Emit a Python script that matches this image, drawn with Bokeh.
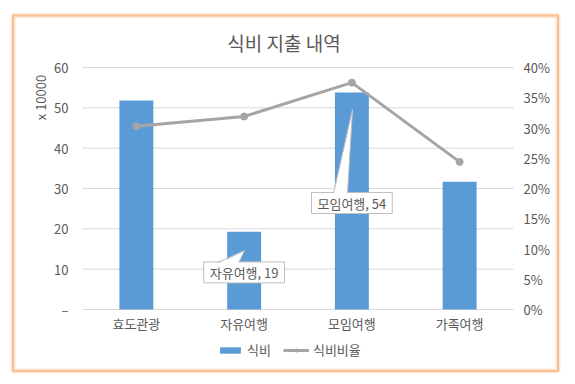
import math
from bokeh.plotting import figure
from bokeh.models import (Range1d, LinearAxis, NumeralTickFormatter, FixedTicker, Label,
                          Legend, LegendItem, ColumnDataSource, CustomJSTickFormatter)
from bokeh.embed import file_html
from bokeh.resources import INLINE

# ---------------- data ----------------
title_text = "식비 지출 내역"
categories = ["효도관광", "자유여행", "모임여행", "가족여행"]
expense = [51.8, 19.3, 53.8, 31.7]          # 식비 (x 10000)
ratio = [0.303, 0.319, 0.375, 0.244]        # 식비비율
left_ticks = [0, 10, 20, 30, 40, 50, 60]
right_ticks = [0.0, 0.05, 0.10, 0.15, 0.20, 0.25, 0.30, 0.35, 0.40]
series_names = ["식비", "식비비율"]
unit_text = "x 10000"
callout_categories = ["자유여행", "모임여행"]

# ---------------- style / layout ----------------
KFONT = "Noto Sans CJK KR"
TXT = "#595959"
GRID = "#d9d9d9"
BAR = "#5b9bd5"
LINE = "#a5a5a5"
BOXLINE = "#bfbfbf"
W, H = 567, 376
PL, PR, PT, PB = 82, 513, 67, 309          # plot area in canvas pixels
Y_MAX = left_ticks[-1]
PCT_MAX = right_ticks[-1]
NCAT = len(categories)
xpp = NCAT / (PR - PL)
ypp = Y_MAX / (PB - PT)


def cx(px):
    return (px - PL) * xpp


def cy(py):
    return (PB - py) * ypp


# callout layout (box centre y, wedge base/tip offsets in category units / data units)
callout_box_y = [9.2, 26.4]
callout_base_top = [11.65, 28.8]
callout_tip = [(0.003, 14.6), (0.006, 49.6)]
callout_base_x = [(-0.247, -0.052), (-0.171, -0.041)]

p = figure(x_range=Range1d(cx(0), cx(W)), y_range=Range1d(cy(H), cy(0)),
           width=W, height=H, output_backend="svg", toolbar_location=None,
           x_axis_location=None, y_axis_location=None,
           min_border=0, min_border_left=0, min_border_right=0, min_border_top=0,
           min_border_bottom=0)
p.outline_line_color = None
p.background_fill_color = "white"
p.border_fill_color = "white"
p.xgrid.visible = False
p.ygrid.visible = False
p.extra_y_ranges = {"pct": Range1d(cy(H) * PCT_MAX / Y_MAX, cy(0) * PCT_MAX / Y_MAX)}

# chart border (soft orange frame)
p.quad(left=cx(12.5), right=cx(557.5), top=cy(15), bottom=cy(370.5), fill_color=None,
       line_color="#fde6d4", line_width=5)
p.quad(left=cx(12.5), right=cx(557.5), top=cy(15), bottom=cy(370.5), fill_color=None,
       line_color="#f6bf94", line_width=2)

# gridlines
p.segment(x0=[0] * len(left_ticks), x1=[NCAT] * len(left_ticks), y0=left_ticks,
          y1=left_ticks, line_color=GRID, line_width=1, level="underlay")


def style_axis(ax, standoff):
    ax.axis_line_color = None
    ax.major_tick_line_color = None
    ax.minor_tick_line_color = None
    ax.major_tick_out = 0
    ax.major_tick_in = 0
    ax.minor_tick_out = 0
    ax.minor_tick_in = 0
    ax.major_label_standoff = standoff
    ax.major_label_text_font = KFONT
    ax.major_label_text_font_size = "13px"
    ax.major_label_text_color = TXT


ya = LinearAxis(fixed_location=0, ticker=FixedTicker(ticks=left_ticks))
ya.major_label_overrides = {0: "–"}
style_axis(ya, 14)
p.add_layout(ya, "left")

ra = LinearAxis(fixed_location=NCAT, y_range_name="pct",
                ticker=FixedTicker(ticks=right_ticks),
                formatter=NumeralTickFormatter(format="0%"))
style_axis(ra, 10)
p.add_layout(ra, "right")

xa = LinearAxis(fixed_location=0, ticker=FixedTicker(ticks=[i + 0.5 for i in range(NCAT)]),
                formatter=CustomJSTickFormatter(args=dict(labels=categories),
                                                code="return labels[Math.floor(tick)]"))
style_axis(xa, 4)
p.add_layout(xa, "below")

src = ColumnDataSource(dict(x=[i + 0.5 for i in range(NCAT)], cat=categories,
                            val=expense, pct=ratio))
bars = p.vbar(x="x", top="val", width=0.315, fill_color=BAR, line_color=None, source=src)
ln = p.line(x="x", y="pct", y_range_name="pct", line_color=LINE, line_width=3, source=src)
mk = p.scatter(x="x", y="pct", y_range_name="pct", size=7, fill_color=LINE,
               line_color=LINE, source=src)

# title and unit label
p.add_layout(Label(x=cx(283.5), y=cy(42), text=title_text, text_align="center",
                   text_baseline="middle", text_font=KFONT, text_font_size="19px",
                   text_color=TXT))
p.add_layout(Label(x=cx(40), y=cy(97), text=unit_text, angle=math.pi / 2,
                   text_align="center", text_baseline="middle", text_font=KFONT,
                   text_font_size="13px", text_color=TXT))

# callouts
for i, cat in enumerate(callout_categories):
    idx = categories.index(cat)
    v = expense[idx]
    c = idx + 0.5
    p.add_layout(Label(x=c, y=callout_box_y[i], text=f"{cat}, {round(v)}",
                       text_align="center", text_baseline="middle", text_font=KFONT,
                       text_font_size="13px", text_color=TXT, padding=(6, 1),
                       border_line_color=BOXLINE, background_fill_color="white"))
    bl = c + callout_base_x[i][0]
    br = c + callout_base_x[i][1]
    tx = c + callout_tip[i][0]
    ty = callout_tip[i][1]
    by = callout_base_top[i]
    p.patch(x=[bl, tx, br], y=[by - 0.35, ty, by - 0.35], fill_color="white",
            line_color=None, level="overlay")
    p.multi_line(xs=[[bl, tx], [tx, br]], ys=[[by, ty], [ty, by]], line_color=BOXLINE,
                 line_width=1, level="overlay")

legend = Legend(items=[LegendItem(label=series_names[0], renderers=[bars]),
                       LegendItem(label=series_names[1], renderers=[ln, mk])],
                orientation="horizontal", location=(217, H - 359), padding=0, margin=0,
                spacing=12, label_standoff=4, glyph_width=26, glyph_height=8,
                border_line_color=None, background_fill_alpha=0,
                label_text_font=KFONT, label_text_font_size="13px",
                label_text_color=TXT)
p.add_layout(legend)

open("out.html", "w").write(file_html(p, INLINE))
